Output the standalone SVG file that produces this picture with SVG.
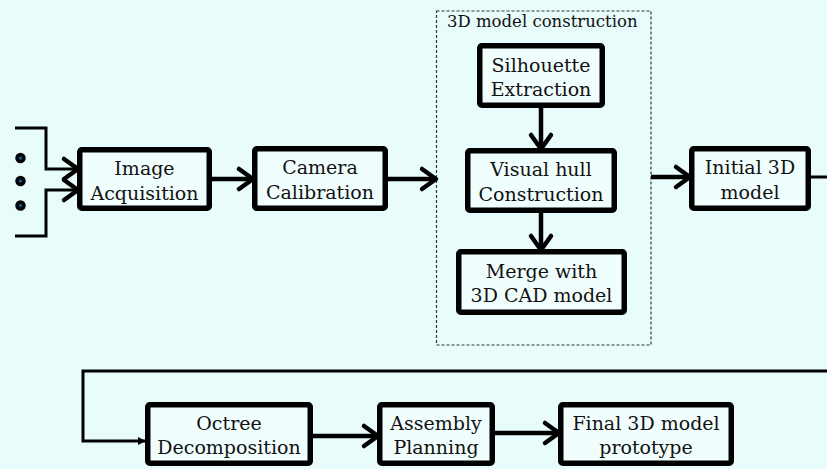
<svg xmlns="http://www.w3.org/2000/svg" width="827" height="469" viewBox="0 0 827 469">
<defs>
<marker id="chev" markerUnits="userSpaceOnUse" viewBox="-4 -4 22 28" markerWidth="22" markerHeight="28" refX="13" refY="10" orient="auto">
<path d="M0,0 L14,10 L0,20" fill="none" stroke="#000" stroke-width="4.5" stroke-linecap="round" stroke-linejoin="round"/>
</marker>
<marker id="tri" markerUnits="userSpaceOnUse" viewBox="0 0 10 10" markerWidth="8" markerHeight="8" refX="9" refY="5" orient="auto">
<path d="M0,0 L10,5 L0,10 Z" fill="#000"/>
</marker>
<style>
.box{fill:#F1FEFE;stroke:#000;stroke-width:5.5;}
.t{font-family:"DejaVu Serif","Liberation Serif",serif;font-size:19px;fill:#111;text-anchor:middle;}
.title{font-family:"DejaVu Serif","Liberation Serif",serif;font-size:16.5px;fill:#111;}
.ln{fill:none;stroke:#000;stroke-width:4.5;}
.thin{fill:none;stroke:#000;stroke-width:3;}
.dot{fill:#0A5A9A;stroke:#000;stroke-width:3.5;}
</style>
</defs>
<rect x="0" y="0" width="827" height="469" fill="#E8FCFC"/>

<g id="inputs">
<circle class="dot" cx="20.5" cy="158" r="3.5"/>
<circle class="dot" cx="20.5" cy="181" r="3.5"/>
<circle class="dot" cx="20.5" cy="205.5" r="3.5"/>
</g>

<g id="group3d">
<rect x="436.5" y="11" width="214.5" height="334" fill="none" stroke="#333" stroke-width="1.2" stroke-dasharray="3,2"/>
<text class="title" x="447" y="27">3D model construction</text>
</g>

<g id="connectors">
<polyline class="thin" points="15,128 46,128 46,169 77,169" marker-end="url(#chev)"/>
<polyline class="thin" points="15,236 46,236 46,190 77,190" marker-end="url(#chev)"/>
<line class="ln" x1="212" y1="179" x2="252" y2="179" marker-end="url(#chev)"/>
<line class="ln" x1="388" y1="179" x2="435" y2="179" marker-end="url(#chev)"/>
<line class="ln" x1="541" y1="108" x2="541" y2="148" marker-end="url(#chev)"/>
<line class="ln" x1="541" y1="213" x2="541" y2="249" marker-end="url(#chev)"/>
<line class="ln" x1="651" y1="177" x2="689" y2="177" marker-end="url(#chev)"/>
<line class="thin" x1="811" y1="177" x2="827" y2="177"/>
<polyline class="thin" points="827,371 83,371 83,441 145,441" marker-end="url(#tri)"/>
<line class="ln" x1="313" y1="436" x2="377" y2="436" marker-end="url(#chev)"/>
<line class="ln" x1="495" y1="433" x2="558" y2="433" marker-end="url(#chev)"/>
</g>

<g id="image-acquisition">
<rect class="box" x="79.75" y="149.75" width="129.5" height="58.5" rx="2"/>
<text class="t" x="144.5" y="175">Image</text>
<text class="t" x="144.5" y="199.5">Acquisition</text>
</g>
<g id="camera-calibration">
<rect class="box" x="254.75" y="148.75" width="130.5" height="59.5" rx="2"/>
<text class="t" x="320" y="174">Camera</text>
<text class="t" x="320" y="198.5">Calibration</text>
</g>
<g id="silhouette-extraction">
<rect class="box" x="479.75" y="45.75" width="122.5" height="59.5" rx="2"/>
<text class="t" x="541" y="71.5">Silhouette</text>
<text class="t" x="541" y="95.5">Extraction</text>
</g>
<g id="visual-hull">
<rect class="box" x="467.75" y="150.75" width="146.5" height="59.5" rx="2"/>
<text class="t" x="541" y="176">Visual hull</text>
<text class="t" x="541" y="200.5">Construction</text>
</g>
<g id="merge-cad">
<rect class="box" x="458.75" y="251.75" width="165.5" height="60.5" rx="2"/>
<text class="t" x="541.5" y="277.5">Merge with</text>
<text class="t" x="541.5" y="302">3D CAD model</text>
</g>
<g id="initial-3d-model">
<rect class="box" x="691.75" y="148.75" width="116.5" height="59.5" rx="2"/>
<text class="t" x="750" y="174">Initial 3D</text>
<text class="t" x="750" y="198.5">model</text>
</g>
<g id="octree-decomposition">
<rect class="box" x="147.75" y="404.75" width="162.5" height="58.5" rx="2"/>
<text class="t" x="229" y="429.5">Octree</text>
<text class="t" x="229" y="454">Decomposition</text>
</g>
<g id="assembly-planning">
<rect class="box" x="379.75" y="404.75" width="112.5" height="58.5" rx="2"/>
<text class="t" x="436" y="429.5">Assembly</text>
<text class="t" x="436" y="454">Planning</text>
</g>
<g id="final-prototype">
<rect class="box" x="560.75" y="404.75" width="170.5" height="58.5" rx="2"/>
<text class="t" x="646" y="429.5">Final 3D model</text>
<text class="t" x="646" y="454">prototype</text>
</g>
</svg>
